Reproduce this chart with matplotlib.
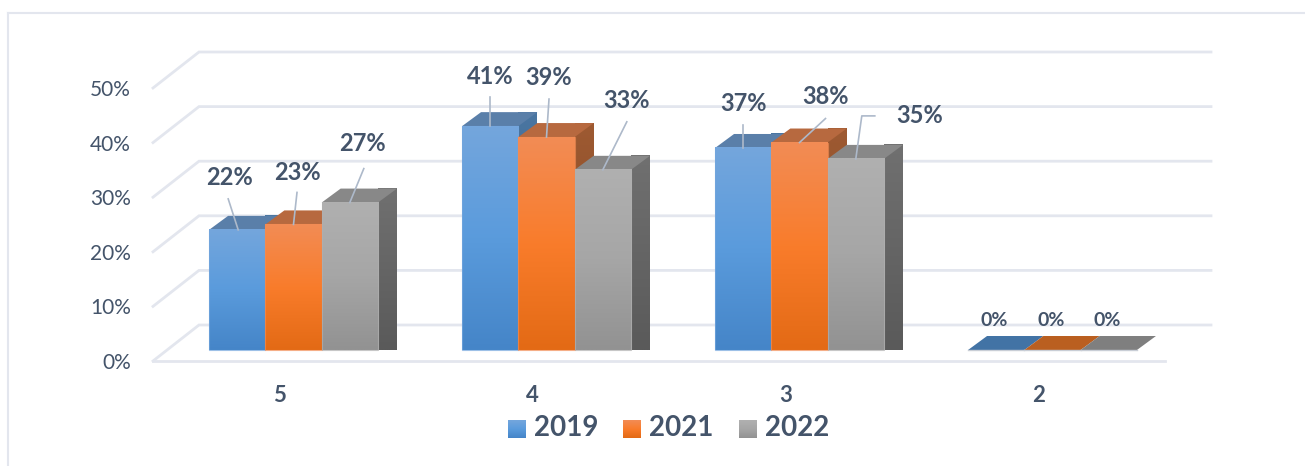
import matplotlib

matplotlib.use("Agg")
import matplotlib.pyplot as plt
import numpy as np
from matplotlib.colors import LinearSegmentedColormap
from matplotlib.lines import Line2D
from matplotlib.patches import Polygon, Rectangle

plt.rcParams["font.family"] = ["Lato", "DejaVu Sans"]

categories = ["5", "4", "3", "2"]
years = ["2019", "2021", "2022"]
v2019 = [22, 41, 37, 0]
v2021 = [23, 39, 38, 0]
v2022 = [27, 33, 35, 0]
y_ticks = [0, 10, 20, 30, 40, 50]

TEXT = "#44546A"
GRID = "#E3E6EE"

# colours per series: front gradient (top, middle, bottom), top face, side gradient
front_colors = [
    ["#74A6DD", "#5A9BDC", "#4585C8"],
    ["#F28C55", "#F97C2B", "#E36A15"],
    ["#B0B0B0", "#A6A6A6", "#929292"],
]
top_colors = ["#5A7FA9", "#B7693F", "#888888"]
side_colors = [["#4A76A2", "#34587C"], ["#9E5A32", "#7E4521"], ["#707070", "#5A5A5A"]]
zero_colors = ["#4273A5", "#BA5F20", "#7F7F7F"]

fig = plt.figure(figsize=(13.05, 4.66), dpi=100)
fig.patch.set_facecolor("white")
# axes is the front plane of the 3d box
ax = fig.add_axes([153 / 1305, (466 - 361) / 466, 1012 / 1305, 273 / 466])
ax.set_xlim(-0.5, 3.5)
ax.set_ylim(0, 50)
ax.patch.set_visible(False)

PX = 4 / 1012  # one pixel in x data units
PY = 50 / 273  # one pixel in y data units

# pixel offsets of label centres and leader lines from the middle of each bar top
label_off = [
    [(-8, 52), (3.5, 52), (13, 59)],
    [(0, 50), (2.5, 60), (24, 69)],
    [(0, 44), (26, 46), (64, 43)],
    [(-2, 30), (-1, 30), (-2, 29)],
]
leader_off = [
    [[(-9, 31), (1, 0)], [(3.5, 32), (0, 0)], [(14, 34), (0, 0)]],
    [[(0, 29), (0, 0)], [(2.5, 38), (0, 0)], [(24, 48), (0, 0)]],
    [[(0, 23), (0, 0)], [(26, 24), (0, 0)], [(19, 43), (6, 43), (0, 0)]],
    [None, None, None],
]


def gradient(colors, extent, clip=None, zorder=3):
    cmap = LinearSegmentedColormap.from_list("g", colors)
    im = ax.imshow(
        np.linspace(0, 1, 128)[:, None],
        cmap=cmap,
        extent=extent,
        aspect="auto",
        origin="upper",
        zorder=zorder,
        clip_on=False,
        interpolation="bilinear",
    )
    if clip is not None:
        im.set_clip_path(clip)
    return im


# back wall and left wall gridlines
floor_dx, floor_dy = 46 * PX, 36 * PY
for v in y_ticks:
    ax.plot(
        [-0.5, -0.5 + floor_dx, 3.5 + floor_dx],
        [v, v + floor_dy, v + floor_dy],
        color=GRID,
        lw=2,
        clip_on=False,
        zorder=1,
        solid_joinstyle="miter",
    )

bar_w = 56.3 * PX
inset_x, inset_y = 14 * PX, 11 * PY
depth_x, depth_y = 19 * PX, 14 * PY
series = [v2019, v2021, v2022]

z = 3
for i in range(len(categories)):
    for k, values in enumerate(series):
        v = values[i]
        left = i - 1.5 * bar_w + inset_x
        left += k * bar_w
        right = left + bar_w
        base = inset_y
        top = base + v
        z += 1
        if v == 0:
            ax.add_patch(
                Polygon(
                    [
                        (left, base),
                        (right, base),
                        (right + depth_x, base + depth_y),
                        (left + depth_x, base + depth_y),
                    ],
                    fc=zero_colors[k],
                    ec="none",
                    clip_on=False,
                    zorder=z,
                )
            )
            ax.plot([left, right], [base, base], color="#C9CED6", lw=1, clip_on=False, zorder=z)
        else:
            side = Polygon(
                [
                    (right, base),
                    (right + depth_x, base + depth_y),
                    (right + depth_x, top + depth_y),
                    (right, top),
                ],
                transform=ax.transData,
                fc="none",
                ec="none",
            )
            gradient(side_colors[k], (right, right + depth_x, base, top + depth_y), side, z)
            ax.add_patch(
                Polygon(
                    [
                        (left, top),
                        (right, top),
                        (right + depth_x, top + depth_y),
                        (left + depth_x, top + depth_y),
                    ],
                    fc=top_colors[k],
                    ec="none",
                    clip_on=False,
                    zorder=z,
                )
            )
            gradient(front_colors[k], (left, right, base, top), None, z)
            ax.add_patch(
                Rectangle(
                    (left, base),
                    bar_w,
                    v,
                    fc="none",
                    ec=front_colors[k][0],
                    lw=0.8,
                    alpha=0.7,
                    clip_on=False,
                    zorder=z,
                )
            )

        # leader line and value label
        mid = (left + right) / 2
        if leader_off[i][k] is not None:
            pts = leader_off[i][k]
            ax.plot(
                [mid + p[0] * PX for p in pts],
                [top + p[1] * PY for p in pts],
                color="#ADB9CA",
                lw=1.2,
                clip_on=False,
                zorder=50,
            )
        ox, oy = label_off[i][k]
        ax.text(
            mid + ox * PX,
            top + oy * PY,
            f"{v}%",
            ha="center",
            va="center",
            fontsize=14 if v == 0 else 17,
            fontweight="bold",
            color=TEXT,
            zorder=60,
        )

ax.set_xlim(-0.5, 3.5)
ax.set_ylim(0, 50)

for name in ["top", "left", "right"]:
    ax.spines[name].set_visible(False)
ax.spines["bottom"].set_color(GRID)
ax.spines["bottom"].set_linewidth(2)

ax.set_xticks(range(len(categories)), categories)
ax.set_yticks(y_ticks, [f"{v}%" for v in y_ticks])
ax.tick_params(axis="x", length=0, pad=17, labelsize=16, labelcolor=TEXT)
ax.tick_params(axis="y", length=0, pad=16, labelsize=15, labelcolor=TEXT)
for t in ax.get_xticklabels():
    t.set_fontweight("bold")

# legend: gradient swatches with year labels
legend_x = [508, 623, 739]
for k, year in enumerate(years):
    x0 = legend_x[k] / 1305
    lax = fig.add_axes([x0, (466 - 438) / 466, 18 / 1305, 18 / 466])
    lax.imshow(
        np.linspace(0, 1, 64)[:, None],
        cmap=LinearSegmentedColormap.from_list("g", front_colors[k]),
        aspect="auto",
    )
    lax.set_axis_off()
    fig.text(
        (legend_x[k] + 26) / 1305,
        (466 - 428) / 466,
        year,
        ha="left",
        va="center",
        fontsize=20,
        fontweight="bold",
        color=TEXT,
    )

# outer chart frame, only left and top are inside the crop
fig.add_artist(Line2D([8 / 1305, 8 / 1305], [0, (466 - 13) / 466], color=GRID, lw=1.5))
fig.add_artist(Line2D([8 / 1305, 1], [(466 - 13) / 466, (466 - 13) / 466], color=GRID, lw=1.5))

fig.savefig("out.png", dpi=100)
